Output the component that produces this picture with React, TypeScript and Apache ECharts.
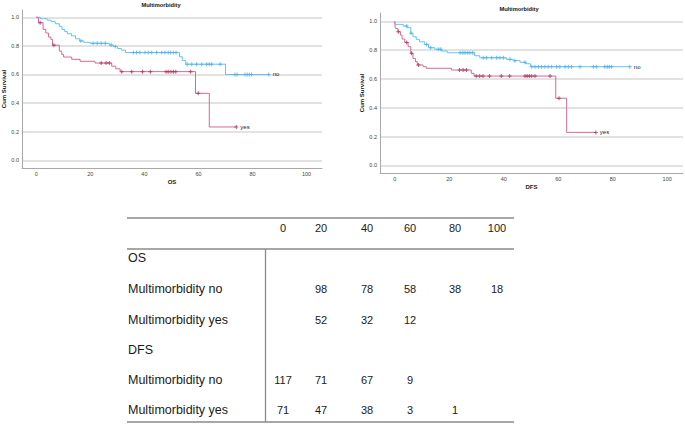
import React, { useEffect, useRef } from 'react';
import * as echarts from 'echarts';

// ---------- axis ticks ----------
const xTicks = [0, 20, 40, 60, 80, 100];
const yTicks = [0, 0.2, 0.4, 0.6, 0.8, 1.0];

// ---------- OS : Multimorbidity no ----------
const osNoTime = [0, 1.5, 4, 5.5, 7, 8.5, 9.5, 10.5, 11.5, 13, 14.5, 16, 17.5, 20, 27, 28.5, 30, 31.5, 33, 53, 54, 55.3, 70, 86];
const osNoSurv = [1, 0.99, 0.98, 0.97, 0.955, 0.935, 0.915, 0.9, 0.885, 0.87, 0.85, 0.835, 0.825, 0.818, 0.806, 0.795, 0.782, 0.77, 0.753, 0.724, 0.697, 0.672, 0.6, 0.6];
const osNoCensor = [16.5, 21, 22.5, 24, 25.5, 27.7, 29.2, 35.9, 37.1, 38.3, 40.2, 41.4, 42.7, 44.5, 46.4, 47.6, 48.8, 49.7, 50.7, 51.7, 55.8, 57.5, 59.3, 61.2, 63, 64, 64.9, 68, 73.5, 74.3, 77.2, 78, 78.8, 79.6, 86];

// ---------- OS : Multimorbidity yes ----------
const osYesTime = [0, 0.8, 2.5, 3.5, 4.5, 5.4, 6, 8.5, 9.4, 10.1, 13.1, 16.2, 21.7, 27.9, 29.4, 31, 58.9, 64, 74];
const osYesSurv = [1, 0.962, 0.916, 0.89, 0.862, 0.845, 0.805, 0.763, 0.74, 0.722, 0.706, 0.692, 0.68, 0.658, 0.64, 0.62, 0.468, 0.233, 0.233];
const osYesCensor = [1.4, 6.5, 24, 25.8, 27, 31.6, 35.3, 39.3, 42.2, 48, 48.8, 49.8, 50.7, 51.6, 57.1, 59.9, 74];

// ---------- DFS : Multimorbidity no ----------
const dfsNoTime = [0, 0.2, 3.1, 4.6, 5.9, 6.7, 7.9, 9.1, 11, 12.4, 14.7, 17.1, 19.3, 29.3, 31.2, 41, 43.5, 46, 48, 49.8, 86.3];
const dfsNoSurv = [1, 0.979, 0.967, 0.956, 0.917, 0.893, 0.875, 0.858, 0.84, 0.817, 0.806, 0.794, 0.782, 0.761, 0.747, 0.736, 0.727, 0.716, 0.706, 0.685, 0.685];
const dfsNoCensor = [4.4, 6, 11.7, 13.2, 16, 16.9, 24, 25, 25.8, 26.8, 27.6, 28.6, 32.5, 33.7, 35.6, 37.4, 38.6, 39.9, 42.3, 44.1, 47.8, 50.3, 51.5, 52.7, 53.9, 55.1, 56.3, 57.6, 59.4, 60.6, 62.5, 63.7, 64.9, 68, 72.9, 74.1, 77.1, 78, 78.7, 79.6, 86.3];

// ---------- DFS : Multimorbidity yes ----------
const dfsYesTime = [0, 0.2, 1.2, 2.1, 2.7, 3.7, 4.9, 5.9, 6.7, 7.6, 8.3, 10.4, 11.6, 20.8, 28.1, 29.1, 59.1, 63.1, 73.8];
const dfsYesSurv = [1, 0.951, 0.928, 0.905, 0.877, 0.854, 0.824, 0.778, 0.743, 0.72, 0.697, 0.685, 0.674, 0.662, 0.639, 0.62, 0.466, 0.229, 0.229];
const dfsYesCensor = [1.3, 4.4, 6.2, 8.7, 23.8, 25.1, 26.3, 29.9, 31.2, 32.4, 34.8, 39.1, 42.2, 47.8, 48.6, 49.4, 50.3, 51.5, 57, 60.3, 73.8];

// ---------- number-at-risk table ----------
const tableHeader = ['0', '20', '40', '60', '80', '100'];
const tableRowLabels = ['OS', 'Multimorbidity no', 'Multimorbidity yes', 'DFS', 'Multimorbidity no', 'Multimorbidity yes'];
const osNoRisk = [null, 98, 78, 58, 38, 18];
const osYesRisk = [null, 52, 32, 12, null, null];
const dfsNoRisk = [117, 71, 67, 9, null, null];
const dfsYesRisk = [71, 47, 38, 3, 1, null];
const emptyRisk = [null, null, null, null, null, null];

const BLUE = '#62C4F6';
const BLUE_MARK = '#45B2EE';
const RED = '#D36C95';
const RED_MARK = '#AE2C5A';
const FONT = 'Liberation Sans, Arial, sans-serif';
const PLUS = 'path://M1.5,0H2.5V1.5H4V2.5H2.5V4H1.5V2.5H0V1.5H1.5Z';

function survAt(times: number[], surv: number[], t: number) {
  let s = surv[0];
  for (let i = 0; i < times.length; i++) if (times[i] <= t) s = surv[i];
  return s;
}

function lineSeries(idx: number, times: number[], surv: number[], color: string, label: string, z: number) {
  return {
    type: 'line',
    xAxisIndex: idx,
    yAxisIndex: idx,
    step: 'end',
    data: times.map((t, i) => [t, surv[i]]),
    symbol: 'none',
    showSymbol: false,
    silent: true,
    z,
    lineStyle: { color, width: 1 },
    endLabel: { show: true, formatter: label, color: '#222', fontSize: 6, fontFamily: FONT, distance: 4 },
  };
}

function censorSeries(idx: number, times: number[], surv: number[], censor: number[], color: string, z: number) {
  return {
    type: 'scatter',
    xAxisIndex: idx,
    yAxisIndex: idx,
    data: censor.map((t) => [t, survAt(times, surv, t)]),
    symbol: PLUS,
    symbolSize: 4,
    silent: true,
    z,
    itemStyle: { color },
  };
}

function xAxisCfg(idx: number, min: number, max: number, name: string) {
  return {
    gridIndex: idx,
    type: 'value',
    min,
    max,
    name,
    nameLocation: 'middle',
    nameGap: 11,
    nameTextStyle: { fontWeight: 'bold', fontSize: 6, color: '#222', fontFamily: FONT },
    axisLine: { show: true, onZero: false, lineStyle: { color: '#a8a8a8', width: 1 } },
    axisTick: { show: false, customValues: xTicks },
    axisLabel: { customValues: xTicks, fontSize: 5.5, color: '#444', margin: 3, fontFamily: FONT },
    splitLine: { show: false },
  };
}

function yAxisCfg(idx: number, min: number, max: number) {
  return {
    gridIndex: idx,
    type: 'value',
    min,
    max,
    name: 'Cum Survival',
    nameLocation: 'middle',
    nameGap: 13,
    nameTextStyle: { fontWeight: 'bold', fontSize: 6, color: '#222', fontFamily: FONT },
    axisLine: { show: true, onZero: false, lineStyle: { color: '#a8a8a8', width: 1 } },
    axisTick: { show: false, customValues: yTicks },
    axisLabel: { customValues: yTicks, formatter: (v: number) => v.toFixed(1), fontSize: 5.5, color: '#444', margin: 3, fontFamily: FONT },
    splitLine: { show: true, lineStyle: { color: '#d8d8d8', width: 1.5 } },
  };
}

function buildTable() {
  const els: any[] = [];
  const colX = [283, 321, 367, 410, 455, 497];
  const headerY = 228;
  const rowY = [258, 289, 320, 350, 380, 410];
  const rows = [emptyRisk, osNoRisk, osYesRisk, emptyRisk, dfsNoRisk, dfsYesRisk];
  const lineStyle = { stroke: '#8a8a8a', lineWidth: 1.3 };
  els.push({ type: 'line', shape: { x1: 127, y1: 218, x2: 514, y2: 218 }, style: lineStyle });
  els.push({ type: 'line', shape: { x1: 127, y1: 249, x2: 514, y2: 249 }, style: lineStyle });
  els.push({ type: 'line', shape: { x1: 127, y1: 422, x2: 514, y2: 422 }, style: lineStyle });
  els.push({ type: 'line', shape: { x1: 265.5, y1: 249, x2: 265.5, y2: 422 }, style: lineStyle });
  const txt = (text: string, x: number, y: number, align: string, size: number) => ({
    type: 'text',
    x,
    y,
    style: { text, fill: '#1a1a1a', fontSize: size, fontFamily: FONT, align, verticalAlign: 'middle', textAlign: align, textVerticalAlign: 'middle' },
  });
  tableHeader.forEach((h, i) => els.push(txt(h, colX[i], headerY, 'center', 11)));
  tableRowLabels.forEach((lab, r) => {
    els.push(txt(lab, 128, rowY[r], 'left', 12.5));
    rows[r].forEach((v, c) => {
      if (v !== null) els.push(txt(String(v), colX[c], rowY[r], 'center', 11));
    });
  });
  return els;
}

export default function App() {
  const ref = useRef<HTMLDivElement>(null);
  useEffect(() => {
    if (!ref.current) return;
    const chart = echarts.init(ref.current, undefined, { renderer: 'svg' });
    const titleStyle = (x: number, y: number) => ({
      type: 'text',
      x,
      y,
      style: { text: 'Multimorbidity', fill: '#111', fontSize: 5.7, fontWeight: 'bold', fontFamily: FONT, align: 'center', verticalAlign: 'middle', textAlign: 'center', textVerticalAlign: 'middle' },
    });
    chart.setOption({
      animation: false,
      backgroundColor: '#ffffff',
      grid: [
        { left: 22, right: 363, top: 10, bottom: 264, outerBoundsMode: 'none', containLabel: false },
        { left: 380, right: 2, top: 13, bottom: 259, outerBoundsMode: 'none', containLabel: false },
      ],
      xAxis: [xAxisCfg(0, -5.3, 105.7, 'OS'), xAxisCfg(1, -5.4, 105.8, 'DFS')],
      yAxis: [yAxisCfg(0, -0.054, 1.051), yAxisCfg(1, -0.053, 1.058)],
      series: [
        lineSeries(0, osNoTime, osNoSurv, BLUE, 'no', 3),
        lineSeries(0, osYesTime, osYesSurv, RED, 'yes', 3),
        censorSeries(0, osNoTime, osNoSurv, osNoCensor, BLUE_MARK, 4),
        censorSeries(0, osYesTime, osYesSurv, osYesCensor, RED_MARK, 4),
        lineSeries(1, dfsNoTime, dfsNoSurv, BLUE, 'no', 3),
        lineSeries(1, dfsYesTime, dfsYesSurv, RED, 'yes', 3),
        censorSeries(1, dfsNoTime, dfsNoSurv, dfsNoCensor, BLUE_MARK, 4),
        censorSeries(1, dfsYesTime, dfsYesSurv, dfsYesCensor, RED_MARK, 4),
      ],
      graphic: [titleStyle(161, 5), titleStyle(519, 9), ...buildTable()],
    });
    return () => chart.dispose();
  }, []);
  return <div ref={ref} style={{ position: 'absolute', left: 0, top: 0, width: 685, height: 432 }} />;
}
